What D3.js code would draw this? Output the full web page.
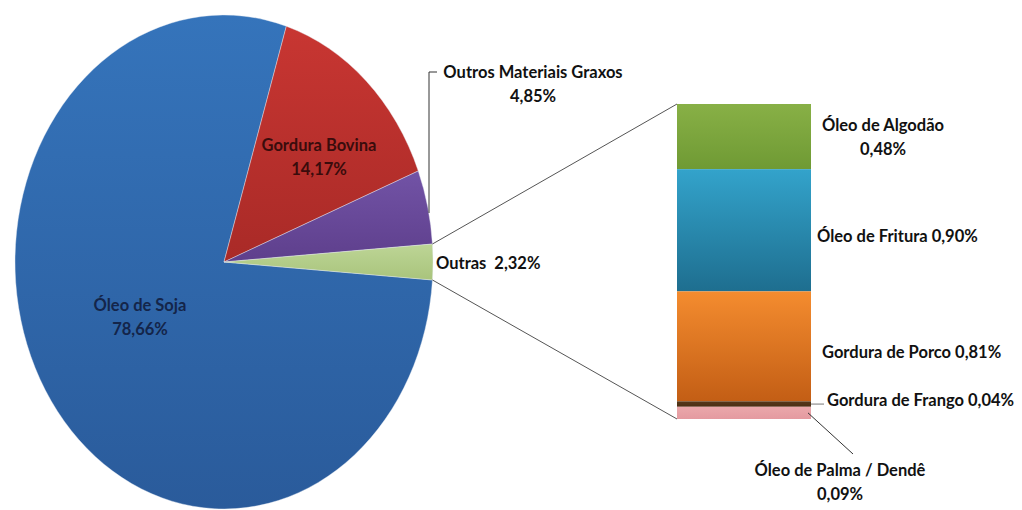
<!DOCTYPE html>
<html>
<head>
<meta charset="utf-8">
<script src="https://cdn.jsdelivr.net/npm/d3@7"></script>
<style>
  html, body { margin: 0; padding: 0; background: #ffffff; }
  svg { display: block; }
  text { font-family: Lato, "Open Sans", sans-serif; font-weight: 700; white-space: pre; }
</style>
</head>
<body>
<svg id="chart" width="1022" height="510"></svg>
<script>
// Matérias-primas: pizza principal
const pieLabels = ["Óleo de Soja", "Gordura Bovina", "Outros Materiais Graxos", "Outras"];
const pieValues = [78.66, 14.17, 4.85, 2.32];
const pieText   = ["78,66%", "14,17%", "4,85%", "2,32%"];

// Detalhamento da fatia "Outras"
const barLabels = ["Óleo de Algodão", "Óleo de Fritura", "Gordura de Porco", "Gordura de Frango", "Óleo de Palma / Dendê"];
const barValues = [0.48, 0.90, 0.81, 0.04, 0.09];
const barText   = ["0,48%", "0,90%", "0,81%", "0,04%", "0,09%"];

const pieColors = [["#3574bb", "#2a5b9b"], ["#c83632", "#a92a27"], ["#7253a6", "#5e3f8c"], ["#bdd596", "#a9c47c"]];
const barColors = [["#88b046", "#6f9a34"], ["#33a3cb", "#1e6e8f"], ["#f48c2f", "#c35e15"], ["#553719", "#4a2f14"], ["#eaa8ab", "#e49aa0"]];

const svg = d3.select("#chart");
const defs = svg.append("defs");

function vGrad(id, c) {
  const g = defs.append("linearGradient").attr("id", id)
    .attr("x1", 0).attr("y1", 0).attr("x2", 0).attr("y2", 1);
  g.append("stop").attr("offset", "0%").attr("stop-color", c[0]);
  g.append("stop").attr("offset", "100%").attr("stop-color", c[1]);
}
pieColors.forEach((c, i) => vGrad("pg" + i, c));
barColors.forEach((c, i) => vGrad("bg" + i, c));

// Pizza elíptica
const cx = 224, cy = 262, rx = 209, ry = 247;
const otherMid = d3.sum(pieValues.slice(0, 3)) + pieValues[3] / 2;
const start = Math.PI / 2 - (otherMid / d3.sum(pieValues)) * 2 * Math.PI;
const pie = d3.pie().sort(null).value(d => d).startAngle(start).endAngle(start + 2 * Math.PI);
const arcs = pie(pieValues);
const arc = d3.arc().innerRadius(0).outerRadius(rx);

const pg = svg.append("g").attr("transform", `translate(${cx},${cy}) scale(1,${ry / rx})`);
pg.selectAll("path").data(arcs).join("path")
  .attr("d", arc)
  .attr("fill", (d, i) => `url(#pg${i})`)
  .attr("stroke", "#e8eef6").attr("stroke-opacity", 0.5).attr("stroke-width", 0.8)
  .attr("vector-effect", "non-scaling-stroke");

const ept = a => [cx + rx * Math.sin(a), cy - ry * Math.cos(a)];

// Barra empilhada
const bx0 = 677, bx1 = 811;
const y = d3.scaleLinear().domain([0, d3.sum(barValues)]).range([104, 419]);
const cum = d3.cumsum(barValues);
const stack = barValues.map((v, i) => ({ v, y0: cum[i] - v, y1: cum[i] }));

svg.append("g").selectAll("rect").data(stack).join("rect")
  .attr("x", bx0).attr("width", bx1 - bx0)
  .attr("y", d => y(d.y0)).attr("height", d => y(d.y1) - y(d.y0))
  .attr("fill", (d, i) => `url(#bg${i})`);

// Linhas de ligação
const other = arcs[3];
const pTop = ept(other.startAngle), pBot = ept(other.endAngle);
const lines = svg.append("g").attr("stroke", "#555").attr("stroke-width", 1).attr("fill", "none");
lines.append("line").attr("x1", pTop[0]).attr("y1", pTop[1]).attr("x2", bx0).attr("y2", y(0));
lines.append("line").attr("x1", pBot[0]).attr("y1", pBot[1]).attr("x2", bx0).attr("y2", y(d3.sum(barValues)));

// Guias dos rótulos
const guide = svg.append("g").attr("stroke", "#333").attr("stroke-width", 1).attr("fill", "none");
guide.append("path").attr("d", "M437,72 H429 V213");
const frY = (y(stack[3].y0) + y(stack[3].y1)) / 2;
guide.append("path").attr("d", `M${bx1},${frY} H824`).attr("stroke", "#777");
const paY = (y(stack[4].y0) + y(stack[4].y1)) / 2;
guide.append("path").attr("d", `M${bx1 - 3},${paY} L853,454`);

// Rótulos
const fs = 16.5;
function label(lines, x, yy, anchor, color) {
  const t = svg.append("text").attr("x", x).attr("y", yy).attr("text-anchor", anchor)
    .attr("font-size", fs).attr("fill", color);
  lines.forEach((s, i) => t.append("tspan").attr("x", x).attr("dy", i === 0 ? 0 : 24).text(s));
}
label([pieLabels[0], pieText[0]], 140, 311, "middle", "#14254a");
label([pieLabels[1], pieText[1]], 319, 151, "middle", "#3a0c0c");
label([pieLabels[2], pieText[2]], 533, 78, "middle", "#111");
label([pieLabels[3] + "  " + pieText[3]], 436, 269, "start", "#111");

label([barLabels[0], barText[0]], 883, 131, "middle", "#111");
label([barLabels[1] + " " + barText[1]], 817, 242, "start", "#111");
label([barLabels[2] + " " + barText[2]], 822, 358, "start", "#111");
label([barLabels[3] + " " + barText[3]], 827, 406, "start", "#111");
label([barLabels[4], barText[4]], 840, 476, "middle", "#111");
</script>
</body>
</html>
